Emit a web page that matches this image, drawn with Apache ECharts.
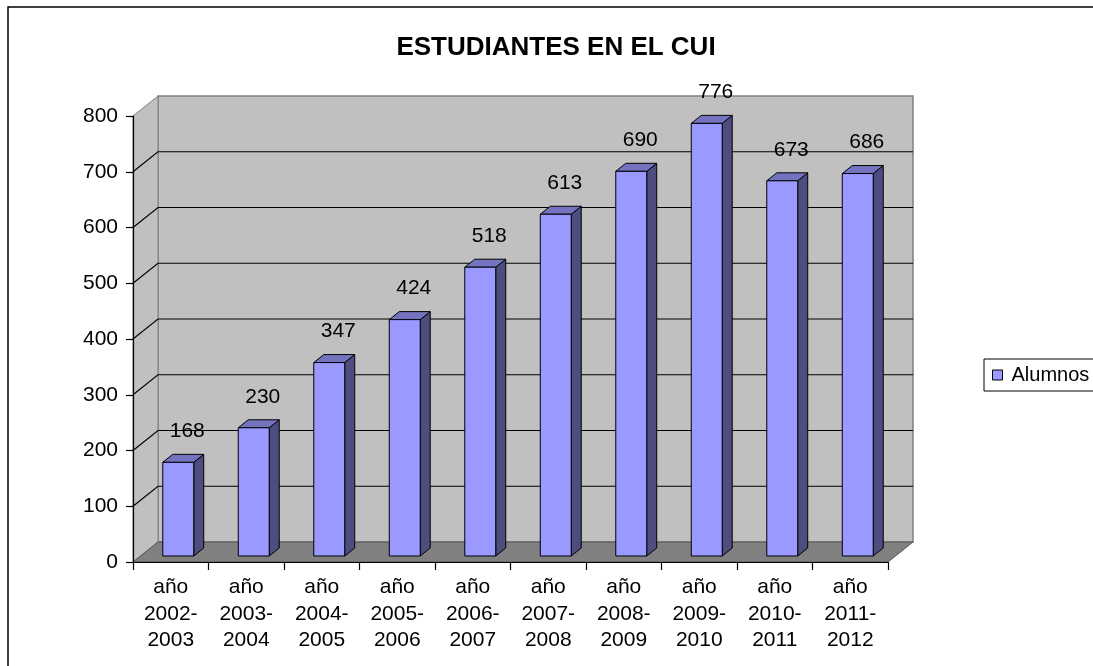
<!DOCTYPE html>
<html>
<head>
<meta charset="utf-8">
<script src="https://cdn.jsdelivr.net/npm/echarts@6/dist/echarts.min.js"></script>
<style>
html,body{margin:0;padding:0;background:#fff;}
#chart{width:1093px;height:666px;}
</style>
</head>
<body>
<div id="chart"></div>
<script>
const categories = ['año\n2002-\n2003','año\n2003-\n2004','año\n2004-\n2005','año\n2005-\n2006','año\n2006-\n2007','año\n2007-\n2008','año\n2008-\n2009','año\n2009-\n2010','año\n2010-\n2011','año\n2011-\n2012'];
const alumnos = [168, 230, 347, 424, 518, 613, 690, 776, 673, 686];
const yTicks = [0, 100, 200, 300, 400, 500, 600, 700, 800];

const FONT = "'Liberation Sans', Arial, sans-serif";
const DX = 25, DY = -20;

const chart = echarts.init(document.getElementById('chart'), null, {renderer: 'canvas'});

function renderWalls(params, api) {
  const cs = params.coordSys;
  const x0 = cs.x, x1 = cs.x + cs.width;
  const yT = api.coord([0, yTicks[yTicks.length - 1]])[1];
  const yB = api.coord([0, yTicks[0]])[1];
  const children = [];
  children.push({type: 'polygon', shape: {points: [[x0 + DX, yT + DY], [x1 + DX, yT + DY], [x1 + DX, yB + DY], [x0 + DX, yB + DY]]},
    style: {fill: '#C0C0C0', stroke: '#808080', lineWidth: 1.5}});
  children.push({type: 'polygon', shape: {points: [[x0, yT], [x0 + DX, yT + DY], [x0 + DX, yB + DY], [x0, yB]]},
    style: {fill: '#C0C0C0', stroke: '#808080', lineWidth: 1}});
  yTicks.slice(1, -1).forEach(function (v) {
    const y = api.coord([0, v])[1];
    children.push({type: 'polyline', shape: {points: [[x0, y], [x0 + DX, y + DY], [x1 + DX, y + DY]]},
      style: {stroke: '#000', lineWidth: 1.2, fill: null}});
  });
  children.push({type: 'polygon', shape: {points: [[x0, yB], [x0 + DX, yB + DY], [x1 + DX, yB + DY], [x1, yB]]},
    style: {fill: '#808080', stroke: '#555', lineWidth: 1}});
  return {type: 'group', children: children};
}

function renderBar(params, api) {
  const idx = api.value(0);
  const v = api.value(1);
  const top = api.coord([idx, v]);
  const base = api.coord([idx, 0]);
  const band = api.size([1, 0])[0];
  const w = band * 0.41;
  const f0 = 0.3, fd = 0.4;
  const cx = top[0] + DX * f0;
  const xa = cx - w / 2, xb = cx + w / 2;
  const yt = top[1] + DY * f0, yb = base[1] + DY * f0;
  const ox = DX * fd, oy = DY * fd;
  return {type: 'group', children: [
    {type: 'polygon', shape: {points: [[xb, yt], [xb + ox, yt + oy], [xb + ox, yb + oy], [xb, yb]]},
      style: {fill: '#4D4D80', stroke: '#000', lineWidth: 1}},
    {type: 'polygon', shape: {points: [[xa, yt], [xb, yt], [xb + ox, yt + oy], [xa + ox, yt + oy]]},
      style: {fill: '#7373BF', stroke: '#000', lineWidth: 1}},
    {type: 'rect', shape: {x: xa, y: yt, width: w, height: yb - yt},
      style: {fill: '#9999FF', stroke: '#000', lineWidth: 1}},
    {type: 'text', style: {text: String(v), x: cx + 9, y: yt + oy - 23, align: 'center', verticalAlign: 'middle',
      fontSize: 21, fontFamily: FONT, fill: '#000'}}
  ]};
}

const option = {
  animation: false,
  backgroundColor: '#fff',
  title: {text: 'ESTUDIANTES EN EL CUI', left: 556, top: 35, textAlign: 'center', padding: 0,
    textStyle: {fontSize: 26, fontWeight: 'bold', fontFamily: FONT, color: '#000'}},
  graphic: [{type: 'rect', shape: {x: 8, y: 7, width: 1200, height: 800}, style: {fill: null, stroke: '#000', lineWidth: 1.5}, z: 100, silent: true}],
  legend: {
    data: [{name: 'Alumnos', icon: 'rect', itemStyle: {color: '#9999FF', borderColor: '#000', borderWidth: 1}}],
    left: 984, top: 359, orient: 'vertical',
    itemWidth: 10, itemHeight: 10,
    padding: [6, 40, 6, 8],
    borderColor: '#000', borderWidth: 1, backgroundColor: '#fff',
    textStyle: {fontSize: 20, fontFamily: FONT, color: '#000', padding: [0, 0, 0, 4]}
  },
  grid: {left: 133, top: 116, width: 755, height: 446, containLabel: false},
  xAxis: {
    type: 'category', data: categories, boundaryGap: true, z: 10,
    axisLine: {lineStyle: {color: '#000', width: 1.2}},
    axisTick: {show: true, length: 8, lineStyle: {color: '#000', width: 1.2}},
    axisLabel: {fontSize: 21, fontFamily: FONT, color: '#000', lineHeight: 26.5, margin: 12, interval: 0},
    splitLine: {show: false}
  },
  yAxis: {
    type: 'value', min: 0, max: 800, interval: 100, z: 10,
    axisLine: {show: true, lineStyle: {color: '#000', width: 1.2}},
    axisTick: {show: true, length: 7, lineStyle: {color: '#000', width: 1.2}},
    axisLabel: {fontSize: 21, fontFamily: FONT, color: '#000', margin: 15},
    splitLine: {show: false}
  },
  series: [
    {type: 'custom', name: 'walls', silent: true, z: 1, data: [[0, 0]], renderItem: renderWalls, clip: false},
    {type: 'custom', name: 'Alumnos', z: 3, clip: false,
      itemStyle: {color: '#9999FF', borderColor: '#000', borderWidth: 1},
      data: alumnos.map(function (v, i) { return [i, v]; }), renderItem: renderBar}
  ]
};
chart.setOption(option);
</script>
</body>
</html>
